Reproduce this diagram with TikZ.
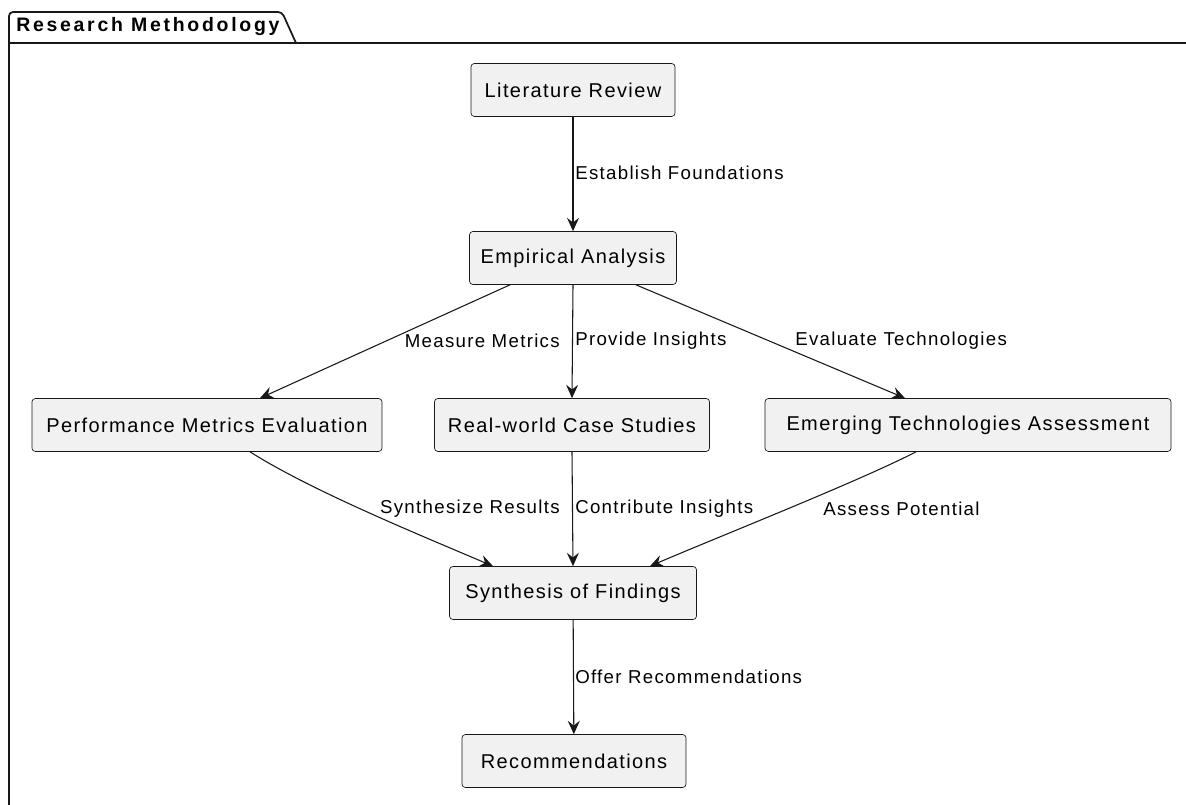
\documentclass[tikz,border=0pt]{standalone}
\usepackage{fontspec}
\setmainfont{Liberation Sans}[LetterSpace=7]
\newfontfamily\titlefont{Liberation Sans}[LetterSpace=14]
\usetikzlibrary{arrows.meta,calc}
\definecolor{nodefill}{HTML}{F1F1F1}
\definecolor{ink}{HTML}{181818}
\begin{document}
\begin{tikzpicture}[x=0.75pt,y=-0.75pt,
  box/.style={draw=ink, fill=nodefill, rounded corners=2.5pt, line width=0.5pt,
    minimum height=39.75pt, inner xsep=8pt, font=\fontsize{15}{18}\selectfont},
  conn/.style={draw=ink, line width=0.8pt, -{Stealth[length=10pt,width=9pt,inset=3.5pt]}},
  lbl/.style={font=\fontsize{14}{17}\selectfont, inner sep=0pt, text=black},
  frameline/.style={draw=ink, line width=1.3pt}
  ]
\useasboundingbox (0,0) rectangle (1186,805);
% frame
\draw[frameline] (1186,43) -- (9,43) -- (9,805);
\draw[frameline, rounded corners=3pt] (9,43) -- (9,12) -- (282,12) -- (296,43);
\node[anchor=west, inner sep=0pt, font=\titlefont\bfseries\fontsize{14.6}{17}\selectfont] (title) at (16,27) {Research Methodology};
% nodes
\node[box, minimum width=153pt] (lit) at (573,90) {Literature Review};
\node[box, minimum width=155.25pt] (emp) at (573,258) {Empirical Analysis};
\node[box, minimum width=262.5pt] (perf) at (207,425) {Performance Metrics Evaluation};
\node[box, minimum width=206.25pt] (real) at (572,425) {Real-world Case Studies};
\node[box, minimum width=304.5pt] (emer) at (968,425) {Emerging Technologies Assessment};
\node[box, minimum width=185.25pt] (syn) at (573,593) {Synthesis of Findings};
\node[box, minimum width=168pt] (rec) at (574,761) {Recommendations};
% connectors
\draw[conn] (lit) -- (emp);
\draw[conn] ($(emp.south)+(-63,0)$) -- ($(perf.north)+(53,0)$);
\draw[conn] (emp.south) -- (real.north);
\draw[conn] ($(emp.south)+(63,0)$) -- ($(emer.north)+(-63,0)$);
\draw[conn] ($(perf.south)+(43,0)$) .. controls ($(perf.south)+(103,38)$) and ($(syn.north)+(-160,-34)$) .. ($(syn.north)+(-80,0)$);
\draw[conn] (real.south) -- (syn.north);
\draw[conn] ($(emer.south)+(-52,0)$) .. controls ($(emer.south)+(-108,29)$) and ($(syn.north)+(147,-30)$) .. ($(syn.north)+(77,0)$);
\draw[conn] (syn) -- (rec);
% labels
\node[lbl, anchor=west] (l1) at (575,173) {Establish Foundations};
\node[lbl, anchor=east] (l2) at (560,341) {Measure Metrics};
\node[lbl, anchor=west] (l3) at (575,341) {Provide Insights};
\node[lbl, anchor=west] (l4) at (795,341) {Evaluate Technologies};
\node[lbl, anchor=east] (l5) at (560,509) {Synthesize Results};
\node[lbl, anchor=west] (l6) at (575,509) {Contribute Insights};
\node[lbl, anchor=west] (l7) at (823,509) {Assess Potential};
\node[lbl, anchor=west] (l8) at (575,677) {Offer Recommendations};
\end{tikzpicture}
\end{document}
